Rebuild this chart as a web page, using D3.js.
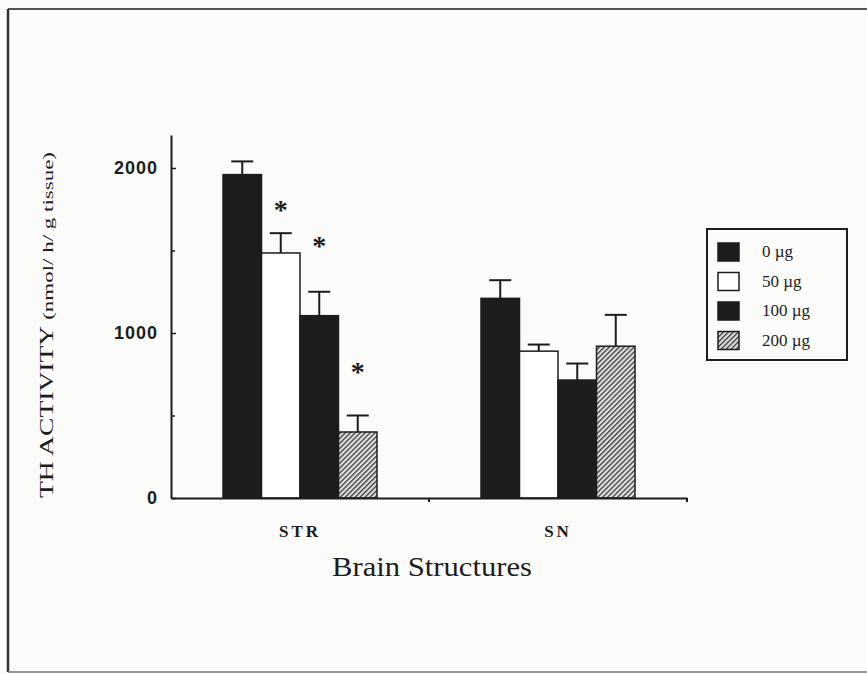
<!DOCTYPE html>
<html>
<head>
<meta charset="utf-8">
<script src="https://cdn.jsdelivr.net/npm/d3@7"></script>
<style>
  html, body { margin: 0; padding: 0; background: #fbfbf9; }
  svg { display: block; }
</style>
</head>
<body>
<div id="chart"></div>
<script>
// data
const groups = ['STR', 'SN'];
const doses = ['0 µg', '50 µg', '100 µg', '200 µg'];
const strMeans = [1960, 1485, 1105, 400];
const strErrors = [80, 120, 145, 100];
const strStars = [null, 1770, 1550, 790];   // level of the * marks
const snMeans = [1210, 890, 715, 920];
const snErrors = [110, 40, 100, 190];
const snStars = [null, null, null, null];
const yTicks = [0, 1000, 2000];
const yMinorTicks = [500, 1500];

const W = 867, H = 674;
const ink = '#1d1d1d';

// flatten to one row per bar
let rows = [];
groups.forEach((g, gi) => {
    let means = gi == 0 ? strMeans : snMeans,
        errs = gi == 0 ? strErrors : snErrors,
        stars = gi == 0 ? strStars : snStars;
    doses.forEach((d, i) => rows.push({ group: g, dose: d, value: means[i], err: errs[i], star: stars[i] }));
});

const svg = d3.select('#chart').append('svg').attr('width', W).attr('height', H);

// hatch pattern for 200 µg
const defs = svg.append('defs');
const pat = defs.append('pattern').attr('id', 'hatch')
    .attr('patternUnits', 'userSpaceOnUse').attr('width', 3.5).attr('height', 3.5)
    .attr('patternTransform', 'rotate(45)');
pat.append('rect').attr('width', 3.5).attr('height', 3.5).attr('fill', '#e2e2e2');
pat.append('rect').attr('x', 0).attr('width', 1.4).attr('height', 3.5).attr('fill', '#444');

const fill = d3.scaleOrdinal().domain(doses).range([ink, '#ffffff', ink, 'url(#hatch)']);

// frame of the scanned page
svg.append('line').attr('x1', 8).attr('x2', W).attr('y1', 9).attr('y2', 9).attr('stroke', '#555').attr('stroke-width', 2);
svg.append('line').attr('x1', 8).attr('x2', 8).attr('y1', 9).attr('y2', 672).attr('stroke', '#333').attr('stroke-width', 2.5);
svg.append('line').attr('x1', 8).attr('x2', W).attr('y1', 672).attr('y2', 672).attr('stroke', '#777').attr('stroke-width', 1.5);

// scales
const y = d3.scaleLinear().domain([0, 2200]).range([498, 135]);
const x0 = d3.scaleBand().domain(groups).range([171, 687]);
const clusterW = 154;
const x1 = d3.scaleBand().domain(doses).range([0, clusterW]);
const off = (x0.bandwidth() - clusterW) / 2;

const g = svg.append('g');

// bars
g.selectAll('rect.bar').data(rows).enter().append('rect')
    .attr('class', 'bar')
    .attr('x', d => x0(d.group) + off + x1(d.dose))
    .attr('y', d => y(d.value))
    .attr('width', x1.bandwidth())
    .attr('height', d => y(0) - y(d.value))
    .attr('fill', d => fill(d.dose))
    .attr('stroke', ink).attr('stroke-width', 1.5);

// error bars
const eb = g.selectAll('g.err').data(rows).enter().append('g').attr('class', 'err')
    .attr('transform', d => `translate(${x0(d.group) + off + x1(d.dose) + x1.bandwidth() / 2},0)`);
eb.append('line').attr('y1', d => y(d.value)).attr('y2', d => y(d.value + d.err))
    .attr('stroke', ink).attr('stroke-width', 2);
eb.append('line').attr('x1', -11).attr('x2', 11)
    .attr('y1', d => y(d.value + d.err)).attr('y2', d => y(d.value + d.err))
    .attr('stroke', ink).attr('stroke-width', 2);

// significance marks
g.selectAll('text.star').data(rows.filter(d => d.star != null)).enter().append('text')
    .attr('class', 'star')
    .attr('x', d => x0(d.group) + off + x1(d.dose) + x1.bandwidth() / 2)
    .attr('y', d => y(d.star) + 13)
    .attr('text-anchor', 'middle')
    .attr('font-family', 'Liberation Serif, serif').attr('font-weight', 'bold')
    .attr('font-size', 28).attr('fill', ink)
    .text('*');

// y axis
const yAxis = svg.append('g').attr('transform', 'translate(171,0)')
    .call(d3.axisLeft(y).tickValues(yTicks).tickFormat(d3.format('d'))
        .tickSizeInner(-5).tickSizeOuter(0).tickPadding(13));
yAxis.select('.domain').attr('stroke', ink).attr('stroke-width', 2);
yAxis.selectAll('.tick line').attr('stroke', ink).attr('stroke-width', 1.5);
yAxis.selectAll('.tick text')
    .attr('font-family', 'Liberation Sans, Arial, sans-serif').attr('font-weight', 'bold')
    .attr('font-size', 18).attr('letter-spacing', 1).attr('fill', ink);
svg.append('g').attr('transform', 'translate(171,0)')
    .call(d3.axisLeft(y).tickValues(yMinorTicks).tickSize(-4).tickFormat(''))
    .call(a => a.select('.domain').remove())
    .selectAll('line').attr('stroke', ink).attr('stroke-width', 1.5);

// x axis
const xAxis = svg.append('g').attr('transform', `translate(0,${y(0)})`)
    .call(d3.axisBottom(x0).tickSize(0).tickSizeOuter(0).tickPadding(27));
xAxis.select('.domain').attr('stroke', ink).attr('stroke-width', 2);
xAxis.selectAll('.tick text')
    .attr('font-family', 'Liberation Serif, serif').attr('font-weight', 'bold')
    .attr('font-size', 17).attr('letter-spacing', 3).attr('fill', ink);
// ticks at the group boundaries
svg.append('g').selectAll('line').data(groups.slice(1).concat(['end'])).enter().append('line')
    .attr('x1', (d, i) => x0.range()[0] + x0.step() * (i + 1))
    .attr('x2', (d, i) => x0.range()[0] + x0.step() * (i + 1))
    .attr('y1', y(0)).attr('y2', y(0) + 4)
    .attr('stroke', ink).attr('stroke-width', 2);

// axis titles
svg.append('text')
    .attr('x', 432).attr('y', 576)
    .attr('text-anchor', 'middle')
    .attr('font-family', 'Liberation Serif, serif').attr('font-size', 27)
    .attr('textLength', 200).attr('lengthAdjust', 'spacingAndGlyphs')
    .attr('fill', ink)
    .text('Brain Structures');

const yt = svg.append('text')
    .attr('transform', 'translate(53,325) rotate(-90)')
    .attr('text-anchor', 'middle')
    .attr('font-family', 'Liberation Serif, serif').attr('fill', ink)
    .attr('textLength', 346).attr('lengthAdjust', 'spacingAndGlyphs');
yt.append('tspan').attr('font-size', 18).text('TH ACTIVITY ');
yt.append('tspan').attr('font-size', 15).text('(nmol/ h/ g tissue)');

// legend
const lg = svg.append('g').attr('transform', 'translate(707,229)');
lg.append('rect').attr('width', 140).attr('height', 131)
    .attr('fill', 'none').attr('stroke', ink).attr('stroke-width', 2);
const item = lg.selectAll('g.item').data(doses).enter().append('g').attr('class', 'item')
    .attr('transform', (d, i) => `translate(11,${14 + i * 29.5})`);
item.append('rect').attr('width', 21).attr('height', 18)
    .attr('fill', d => fill(d)).attr('stroke', ink).attr('stroke-width', 1.5);
item.append('text').attr('x', 44).attr('y', 14)
    .attr('font-family', 'Liberation Serif, serif').attr('font-size', 17).attr('fill', ink)
    .text(d => d);
</script>
</body>
</html>
